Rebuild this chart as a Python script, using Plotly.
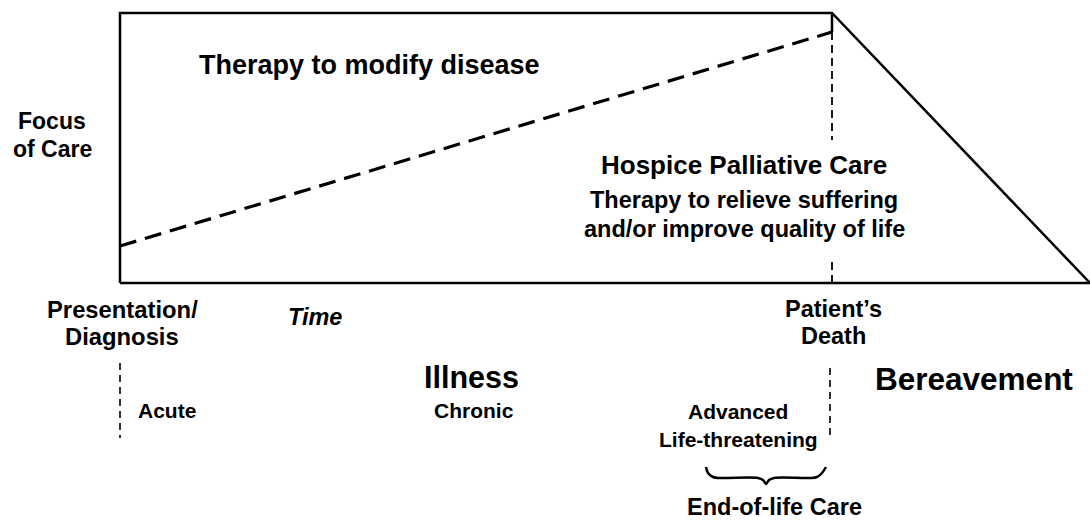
import plotly.graph_objects as go

# ---- diagram geometry (time axis in px-like units, focus axis downward) ----
diagnosis_t = 120
death_t = 832
end_t = 1090
care_top = 13
care_base = 283

# outer care region (rectangle + bereavement slope)
region_x = [diagnosis_t, diagnosis_t, death_t, end_t, diagnosis_t]
region_y = [care_base, care_top, care_top, care_base, care_base]
death_edge_x = [death_t, death_t]
death_edge_y = [care_top, 32]

# dashed divider: disease-modifying vs palliative therapy
divider_x = [diagnosis_t, death_t]
divider_y = [246, 32]

# death marker dashed segments inside the region
death_dash_upper_y = [32, 140]
death_dash_lower_y = [262, care_base]

# phase markers below the time axis
phase_marker_y = [363, 438]
death_marker_y = [368, 438]

# end-of-life brace
brace_x = [706, 708, 713, 720, 758, 763, 766, 769, 774, 810, 817, 822, 826]
brace_y = [467, 473, 477, 478, 478, 480, 484, 480, 478, 478, 477, 473, 467]

# labels: text, x, y, size, anchor, italic
labels = [
    ("Focus", 52, 121, 23, "center", False),
    ("of Care", 52, 149, 23, "center", False),
    ("Therapy to modify disease", 197, 65, 27, "left", False),
    ("Hospice Palliative Care", 744, 165, 26, "center", False),
    ("Therapy to relieve suffering", 744, 200, 23.5, "center", False),
    ("and/or improve quality of life", 744, 229, 23.5, "center", False),
    ("Presentation/", 122, 309, 23.8, "center", False),
    ("Diagnosis", 122, 336, 23.8, "center", False),
    ("Time", 315, 317, 23.5, "center", True),
    ("Patient\u2019s", 833, 309, 23.5, "center", False),
    ("Death", 833, 336, 23.5, "center", False),
    ("Illness", 471, 377, 30.5, "center", False),
    ("Bereavement", 974, 379, 31.5, "center", False),
    ("Acute", 167, 410, 21, "center", False),
    ("Chronic", 474, 410, 21, "center", False),
    ("Advanced", 738, 411, 21, "center", False),
    ("Life-threatening", 738, 439, 21, "center", False),
    ("End-of-life Care", 774, 507, 23.5, "center", False),
]

FONT = "Liberation Sans, Arial, Helvetica, sans-serif"

fig = go.Figure()

def add_line(x, y, width, dash="solid", shape="linear"):
    fig.add_trace(go.Scatter(x=x, y=y, mode="lines",
                             line=dict(color="black", width=width, dash=dash, shape=shape),
                             hoverinfo="skip", showlegend=False))

add_line(region_x, region_y, 2.5)
add_line(death_edge_x, death_edge_y, 2.5)
add_line(divider_x, divider_y, 3.2, dash="17px,9px")
add_line([death_t, death_t], death_dash_upper_y, 1.8, dash="8px,5px")
add_line([death_t, death_t], death_dash_lower_y, 1.8, dash="8px,5px")
add_line([diagnosis_t, diagnosis_t], phase_marker_y, 1.6, dash="7px,5px")
add_line([death_t - 2, death_t - 2], death_marker_y, 1.6, dash="7px,5px")
add_line(brace_x, brace_y, 2.5, shape="spline")

for text, x, y, size, anchor, italic in labels:
    t = f"<b><i>{text}</i></b>" if italic else f"<b>{text}</b>"
    fig.add_annotation(x=x, y=y, xref="x", yref="y", text=t, showarrow=False,
                       xanchor=anchor, yanchor="middle",
                       font=dict(family=FONT, size=size, color="black"))

fig.update_layout(
    width=1090, height=521,
    margin=dict(l=0, r=0, t=0, b=0),
    paper_bgcolor="white", plot_bgcolor="white",
    xaxis=dict(range=[0, 1090], visible=False, fixedrange=True),
    yaxis=dict(range=[521, 0], visible=False, fixedrange=True),
    showlegend=False,
)

fig.write_html("out.html",
               config={"displayModeBar": False},
               post_script="document.body.style.margin='0';document.body.style.overflow='hidden';")
